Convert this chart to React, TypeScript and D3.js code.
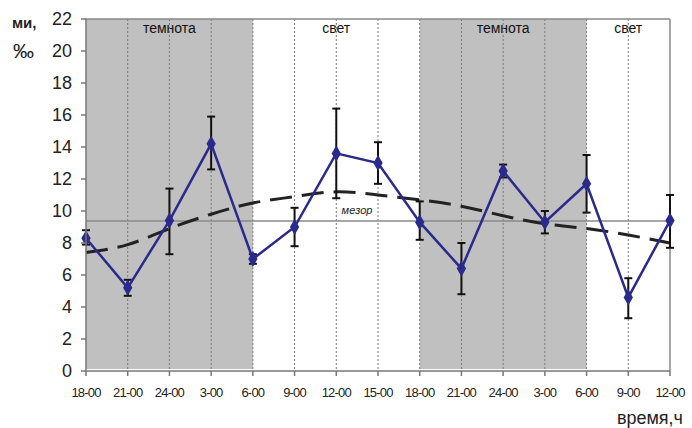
import * as d3 from "d3";

const categories = ["18-00", "21-00", "24-00", "3-00", "6-00", "9-00", "12-00", "15-00", "18-00", "21-00", "24-00", "3-00", "6-00", "9-00", "12-00"];
const meanValues = [8.3, 5.2, 9.4, 14.2, 7.0, 9.0, 13.6, 13.0, 9.3, 6.4, 12.5, 9.3, 11.7, 4.6, 9.4];
const errLow = [7.9, 4.7, 7.3, 12.6, 6.7, 7.8, 10.8, 11.7, 8.2, 4.8, 12.1, 8.6, 9.9, 3.3, 7.7];
const errHigh = [8.8, 5.7, 11.4, 15.9, 7.3, 10.2, 16.4, 14.3, 10.6, 8.0, 12.9, 10.0, 13.5, 5.8, 11.0];
const cosinor = [7.4, 7.9, 8.9, 9.8, 10.5, 10.9, 11.2, 11.0, 10.7, 10.3, 9.7, 9.2, 8.9, 8.5, 8.0];
const mesor = 9.37;
const yTicks = [0, 2, 4, 6, 8, 10, 12, 14, 16, 18, 20, 22];
const bands = [
  { from: 0, to: 4, label: "темнота", dark: true },
  { from: 4, to: 8, label: "свет", dark: false },
  { from: 8, to: 12, label: "темнота", dark: true },
  { from: 12, to: 14, label: "свет", dark: false },
];

const W = 692;
const H = 428;
const left = 86;
const right = 670;
const top = 19;
const bottom = 371;

export default function App() {
  const idx = categories.map((_, i) => i);
  const x = d3.scaleLinear().domain([0, categories.length - 1]).range([left, right]);
  const y = d3.scaleLinear().domain([0, 22]).range([bottom, top]);

  const meanLine = d3.line<number>().x((i) => x(i)).y((i) => y(meanValues[i]))(idx) || "";
  const cosLine = d3.line<number>().x((i) => x(i)).y((i) => y(cosinor[i])).curve(d3.curveNatural)(idx) || "";
  const diamond = d3.symbol().type(d3.symbolDiamond).size(75)() || "";
  const font = "Arial, 'Liberation Sans', sans-serif";

  return (
    <svg width={W} height={H} style={{ position: "absolute", left: 0, top: 0, background: "#fff" }} fontFamily={font}>
      {bands.map((b, i) => (
        <g key={i}>
          {b.dark && (
            <rect x={x(b.from)} y={top} width={x(b.to) - x(b.from)} height={bottom - top - 2} fill="#c0c0c0" />
          )}
          <text x={(x(b.from) + x(b.to)) / 2} y={top + 14} textAnchor="middle" fontSize={14} fill="#111">
            {b.label}
          </text>
        </g>
      ))}
      {idx.slice(1, -1).map((i) => (
        <line key={i} x1={x(i)} x2={x(i)} y1={top} y2={bottom} stroke="#777" strokeWidth={1} strokeDasharray="2,2" />
      ))}
      <line x1={left} x2={right} y1={top} y2={top} stroke="#888" strokeWidth={1.5} />
      <line x1={right} x2={right} y1={top} y2={bottom} stroke="#888" strokeWidth={1.5} />
      <line x1={left} x2={right} y1={y(mesor)} y2={y(mesor)} stroke="#8a8a8a" strokeWidth={1.5} />
      <text x={357} y={214} textAnchor="middle" fontSize={11} fontStyle="italic" fill="#222">мезор</text>
      <path d={cosLine} fill="none" stroke="#222" strokeWidth={3} strokeDasharray="22,10" />
      {idx.map((i) => (
        <g key={i} stroke="#111" strokeWidth={2}>
          <line x1={x(i)} x2={x(i)} y1={y(errLow[i])} y2={y(errHigh[i])} />
          <line x1={x(i) - 4} x2={x(i) + 4} y1={y(errLow[i])} y2={y(errLow[i])} />
          <line x1={x(i) - 4} x2={x(i) + 4} y1={y(errHigh[i])} y2={y(errHigh[i])} />
        </g>
      ))}
      <path d={meanLine} fill="none" stroke="#2a2a8c" strokeWidth={2.5} />
      {idx.map((i) => (
        <path key={i} d={diamond} transform={`translate(${x(i)},${y(meanValues[i])})`} fill="#2a2a8c" />
      ))}
      <line x1={left} x2={left} y1={top} y2={bottom} stroke="#777" strokeWidth={1.5} />
      <line x1={left} x2={right} y1={bottom} y2={bottom} stroke="#777" strokeWidth={1.5} />
      {yTicks.map((t) => (
        <g key={t}>
          <line x1={left - 5} x2={left} y1={y(t)} y2={y(t)} stroke="#777" strokeWidth={1.5} />
          <text x={left - 14} y={y(t) + 6} textAnchor="end" fontSize={18} fill="#222">{t}</text>
        </g>
      ))}
      {idx.map((i) => (
        <g key={i}>
          <line x1={x(i)} x2={x(i)} y1={bottom} y2={bottom + 5} stroke="#777" strokeWidth={1.5} />
          <text x={x(i)} y={bottom + 26} textAnchor="middle" fontSize={13} fill="#222" letterSpacing={-0.8}>
            {categories[i]}
          </text>
        </g>
      ))}
      <text x={12} y={28} fontSize={15} fontWeight="bold" fill="#222">ми,</text>
      <text x={13} y={58} fontSize={21} fill="#222">‰</text>
      <text x={683} y={424} textAnchor="end" fontSize={18} fill="#222">время,ч</text>
    </svg>
  );
}
